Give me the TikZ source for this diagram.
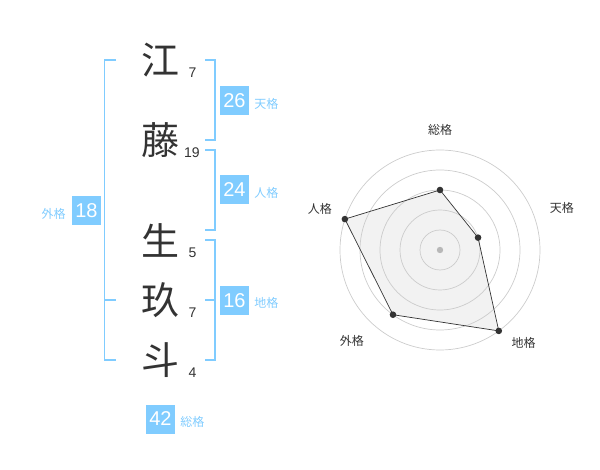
\documentclass[tikz,border=0pt]{standalone}
\usepackage{fontspec}
\setmainfont{Liberation Sans}
\newfontfamily\jpfont{Noto Sans CJK JP}
\usepackage{tikz}
\usetikzlibrary{positioning}

\definecolor{kakublue}{HTML}{80CCFF}
\definecolor{inkgrey}{HTML}{333333}
\definecolor{ringgrey}{HTML}{CCCCCC}
\definecolor{areagrey}{HTML}{F2F2F2}

\tikzset{
  kanji/.style={font=\jpfont\fontsize{38}{38}\selectfont, text=inkgrey, inner sep=0pt},
  strokes/.style={font=\fontsize{14}{14}\selectfont, text=inkgrey, inner sep=0pt},
  kakubox/.style={fill=kakublue, text=white, minimum size=29pt, inner sep=0pt,
    font=\fontsize{20}{20}\selectfont},
  kakulabel/.style={text=kakublue, font=\jpfont\fontsize{12}{12}\selectfont, inner sep=0pt},
  bracket/.style={draw=kakublue, line width=1.6pt},
  axislabel/.style={text=inkgrey, font=\jpfont\fontsize{12}{12}\selectfont, inner sep=0pt},
}

\begin{document}
\begin{tikzpicture}[x=1pt,y=-1pt]
  \useasboundingbox (0,0) rectangle (600,470);

  % characters of the name
  \node[kanji] (c1) at (160,60)  {江};
  \node[kanji] (c2) at (160,140) {藤};
  \node[kanji] (c3) at (160,240) {生};
  \node[kanji] (c4) at (160,300) {玖};
  \node[kanji] (c5) at (160,360) {斗};

  % stroke counts
  \node[strokes] (n1) at (192.5,72.5)  {7};
  \node[strokes] (n2) at (192,152.5)   {19};
  \node[strokes] (n3) at (192.5,252.5) {5};
  \node[strokes] (n4) at (192.5,312.5) {7};
  \node[strokes] (n5) at (192.5,372.5) {4};

  % outer bracket
  \draw[bracket] (116,60) -- (104.5,60) -- (104.5,360) -- (116,360);
  \draw[bracket] (104.5,300) -- (116,300);

  % inner brackets
  \draw[bracket] (205,60)  -- (215,60)  -- (215,140) -- (205,140);
  \draw[bracket] (205,150) -- (215,150) -- (215,230) -- (205,230);
  \draw[bracket] (205,240) -- (215,240) -- (215,360) -- (205,360);
  \draw[bracket] (205,300) -- (215,300);

  % sums
  \node[kakubox] (ten)  at (234.5,100.5) {26};
  \node[kakubox] (jin)  at (234.5,190)   {24};
  \node[kakubox] (chi)  at (234.5,300.5) {16};
  \node[kakubox] (gai)  at (86.5,210.5)  {18};
  \node[kakubox] (sou)  at (160.5,419)   {42};

  \node[kakulabel, right=5pt of ten, yshift=-3pt] (tenl) {天格};
  \node[kakulabel, right=5pt of jin, yshift=-3pt] (jinl) {人格};
  \node[kakulabel, right=5pt of chi, yshift=-2pt] (chil) {地格};
  \node[kakulabel, left=6pt of gai, yshift=-3pt]  (gail) {外格};
  \node[kakulabel, right=5pt of sou, yshift=-3pt] (soul) {総格};

  % radar chart
  \begin{scope}[shift={(440,250)}, y=1pt]
    \coordinate (r1) at (90:60);
    \coordinate (r2) at (18:40);
    \coordinate (r3) at (-54:100);
    \coordinate (r4) at (-126:80);
    \coordinate (r5) at (162:100);

    \fill[areagrey] (r1) -- (r2) -- (r3) -- (r4) -- (r5) -- cycle;
    \foreach \r in {1,...,5}
      \draw[ringgrey, line width=0.7pt] (0,0) circle[radius=\r*20pt];
    \fill[ringgrey!90!black] (0,0) circle[radius=3.2pt];

    \draw[inkgrey, line width=0.7pt]
      (r1) -- (r2) -- (r3) -- (r4) -- (r5) -- cycle;
    \foreach \p in {r1,r2,r3,r4,r5}
      \fill[inkgrey] (\p) circle[radius=3.3pt];

    \node[axislabel] (a1) at (90:120)   {総格};
    \node[axislabel] (a2) at (19:129)   {天格};
    \node[axislabel] (a3) at (-48:125)  {地格};
    \node[axislabel] (a4) at (-134:127) {外格};
    \node[axislabel] (a5) at (161:127)  {人格};
  \end{scope}

\end{tikzpicture}
\end{document}
